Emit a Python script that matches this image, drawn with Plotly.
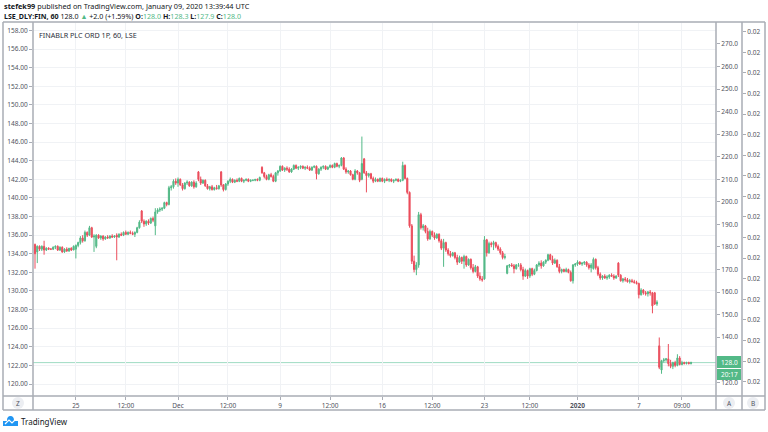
import plotly.graph_objects as go

# ---------------- data (hourly candles, FINABLR PLC, LSE) ----------------
opens = [
    135.0, 134.2, 134.8, 134.5, 134.8, 134.4, 134.6, 134.5, 134.5,  # Nov 21
    134.7, 134.8, 134.4, 134.7, 134.2, 134.5, 134.3, 134.6, 134.4,  # Nov 22
    134.5, 134.9, 135.2, 135.7, 135.4, 136.3, 136.0, 136.8, 135.8,  # Nov 25
    134.8, 136.0, 135.7, 135.9, 135.6, 135.8, 135.7, 135.9, 135.8,  # Nov 26
    136.0, 135.8, 136.1, 136.0, 136.3, 136.1, 136.3, 136.2, 136.1,  # Nov 27
    136.3, 136.8, 138.6, 137.5, 137.2, 137.5, 137.3, 137.8, 137.0,  # Nov 28
    138.5, 138.7, 138.8, 138.9, 139.5, 139.3, 141.1, 141.2, 141.8,  # Nov 29
    141.6, 142.0, 141.4, 141.0, 141.6, 141.7, 141.3, 141.7, 141.2,  # Dec 2
    142.8, 142.0, 141.6, 141.9, 141.3, 141.0, 141.2, 140.9, 141.1,  # Dec 3
    141.0, 142.8, 141.4, 140.9, 141.5, 141.8, 142.0, 141.7, 141.9,  # Dec 4
    141.8, 142.1, 141.8, 141.9, 142.0, 141.8, 141.9, 141.9, 142.0,  # Dec 5
    141.9, 143.3, 142.7, 142.3, 142.0, 142.5, 142.3, 141.8, 142.7,  # Dec 6
    142.9, 143.4, 143.0, 143.2, 143.1, 142.8, 143.1, 143.5, 143.2,  # Dec 9
    143.3, 143.4, 143.2, 143.3, 143.2, 143.0, 143.3, 143.4, 142.6,  # Dec 10
    143.1, 143.3, 143.4, 143.1, 143.3, 143.5, 143.3, 143.7, 143.4,  # Dec 11
    143.5, 144.3, 143.1, 142.8, 142.9, 142.5, 142.0, 142.9, 142.7,  # Dec 12
    142.0, 144.2, 142.7, 142.4, 142.6, 142.1, 141.8, 142.0, 141.8,  # Dec 13
    142.1, 141.8, 142.0, 141.9, 142.0, 141.8, 141.9, 142.0, 141.8,  # Dec 16
    141.9, 143.5, 142.1, 140.6, 137.0, 133.2, 132.3, 132.8, 138.2,  # Dec 17
    136.8, 137.0, 136.4, 135.6, 136.4, 136.0, 135.7, 136.1, 135.4,  # Dec 18
    134.6, 135.2, 134.4, 134.0, 133.8, 134.1, 133.6, 133.1, 133.6,  # Dec 19
    133.2, 133.7, 132.8, 133.4, 132.5, 132.1, 132.6, 131.6, 131.3,  # Dec 20
    131.3, 135.5, 134.1, 135.1, 135.0, 135.2, 134.8, 134.5, 134.1,  # Dec 23
    133.6, 131.9, 132.7, 132.8, 132.7, 132.4, 132.8,                # Dec 24
    132.8, 132.3, 131.6, 132.2, 131.6, 132.4, 131.8, 132.2, 132.8,  # Dec 27
    133.0, 132.7, 133.1, 133.3, 133.9, 133.4, 133.0, 133.3, 132.6,  # Dec 30
    132.1, 132.3, 132.1, 132.3, 132.0, 131.1, 132.8,                # Dec 31
    132.9, 133.1, 132.9, 133.0, 133.1, 132.8, 132.5, 132.4, 133.4,  # Jan 2
    132.5, 131.8, 131.4, 131.6, 131.4, 131.5, 131.7, 131.6, 131.4,  # Jan 3
    133.0, 131.7, 131.1, 131.3, 131.2, 131.0, 131.1, 131.0, 130.9,  # Jan 6
    130.8, 129.6, 130.1, 129.8, 129.7, 129.9, 129.8, 129.8, 128.6,  # Jan 7
    124.1, 121.5, 122.5, 122.6, 122.7, 122.2, 121.9, 122.3, 122.0,  # Jan 8
    122.8, 122.1, 122.3, 122.2, 122.3, 122.2,                       # Jan 9
]
highs = [
    135.1, 134.9, 134.9, 134.9, 135.4, 134.7, 134.7, 134.6, 134.8,
    134.9, 134.9, 134.8, 134.8, 134.6, 134.7, 134.6, 134.7, 134.9,
    135.0, 135.3, 135.9, 136.0, 136.5, 136.4, 137.0, 136.9, 136.1,
    136.1, 136.1, 136.0, 136.0, 135.9, 136.0, 136.0, 136.1, 136.0,
    136.2, 136.2, 136.3, 136.4, 136.5, 136.4, 136.5, 136.4, 136.4,
    136.9, 137.6, 138.7, 137.7, 137.6, 137.7, 137.9, 138.0, 138.9,
    138.9, 139.0, 139.0, 139.6, 139.6, 141.3, 141.4, 142.0, 142.1,
    142.2, 142.1, 141.6, 141.7, 141.9, 141.8, 141.8, 141.9, 141.8,
    142.9, 142.3, 142.0, 142.0, 141.5, 141.3, 141.4, 141.2, 141.4,
    141.4, 142.9, 141.5, 141.6, 141.9, 142.2, 142.1, 142.0, 142.1,
    142.2, 142.2, 142.0, 142.1, 142.1, 142.0, 142.0, 142.0, 142.1,
    142.3, 143.4, 142.8, 142.5, 142.6, 142.7, 142.5, 142.8, 143.0,
    143.5, 143.5, 143.3, 143.4, 143.3, 143.2, 143.6, 143.6, 143.4,
    143.5, 143.5, 143.4, 143.5, 143.4, 143.4, 143.5, 143.5, 143.2,
    143.4, 143.5, 143.5, 143.4, 143.6, 143.6, 143.8, 143.8, 143.6,
    144.4, 144.4, 143.3, 143.0, 143.0, 142.6, 143.1, 143.0, 142.8,
    146.6, 144.3, 142.9, 142.7, 142.7, 142.3, 142.2, 142.1, 142.2,
    142.2, 142.1, 142.2, 142.1, 142.1, 142.0, 142.1, 142.1, 142.0,
    143.9, 143.6, 142.2, 140.7, 137.2, 133.8, 133.1, 138.5, 138.4,
    137.2, 137.1, 136.8, 136.6, 136.5, 136.3, 136.2, 136.2, 135.6,
    135.6, 135.3, 134.6, 134.3, 134.2, 134.2, 133.9, 133.8, 133.7,
    133.9, 133.8, 133.5, 133.5, 132.9, 132.8, 132.7, 132.0, 131.6,
    135.9, 135.6, 135.3, 135.3, 135.4, 135.3, 135.0, 134.7, 134.3,
    134.0, 132.8, 132.9, 133.0, 132.9, 132.9, 133.0,
    133.0, 132.6, 132.4, 132.3, 132.5, 132.5, 132.4, 132.9, 133.2,
    133.3, 133.2, 133.4, 134.0, 134.0, 133.8, 133.5, 133.4, 132.9,
    132.4, 132.4, 132.5, 132.4, 132.2, 132.9, 133.0,
    133.3, 133.2, 133.1, 133.2, 133.2, 133.0, 133.0, 133.6, 133.5,
    132.7, 132.0, 131.7, 131.8, 131.7, 131.8, 131.9, 131.8, 131.7,
    133.1, 131.8, 131.4, 131.5, 131.4, 131.3, 131.3, 131.2, 131.1,
    130.9, 130.3, 130.2, 130.0, 130.0, 130.1, 129.9, 129.9, 129.0,
    125.0, 122.6, 122.8, 122.8, 124.3, 122.6, 122.4, 122.5, 123.2,
    123.0, 122.5, 122.4, 122.4, 122.4, 122.4,
]
lows = [
    132.4, 133.0, 134.3, 134.3, 133.9, 134.3, 134.4, 134.4, 134.4,
    134.5, 134.3, 134.3, 134.1, 134.1, 134.2, 134.2, 134.3, 134.4,
    133.5, 134.7, 135.0, 135.2, 135.3, 135.8, 135.9, 135.7, 134.2,
    134.6, 135.6, 135.5, 135.4, 135.5, 135.6, 135.6, 135.7, 135.7,
    133.3, 135.7, 135.9, 135.9, 136.0, 136.0, 136.1, 136.0, 135.8,
    136.2, 136.7, 137.3, 136.9, 137.0, 137.1, 137.2, 137.4, 136.0,
    138.3, 138.5, 138.6, 138.8, 139.1, 139.2, 140.8, 141.0, 141.4,
    141.2, 141.3, 140.8, 140.9, 141.4, 141.2, 141.2, 141.0, 141.1,
    141.8, 141.4, 141.5, 141.2, 140.9, 140.8, 140.8, 140.8, 140.9,
    140.9, 141.2, 140.7, 140.8, 141.3, 141.6, 141.6, 141.6, 141.7,
    141.7, 141.7, 141.6, 141.8, 141.7, 141.7, 141.8, 141.8, 141.8,
    141.8, 142.6, 142.1, 141.9, 141.9, 142.2, 141.7, 141.7, 142.4,
    142.8, 142.9, 142.8, 142.9, 142.7, 142.7, 143.0, 143.1, 143.0,
    143.1, 143.1, 143.0, 143.1, 142.9, 142.9, 143.2, 142.0, 142.5,
    142.9, 143.1, 143.0, 143.0, 143.2, 143.2, 143.2, 143.3, 143.2,
    143.4, 143.0, 142.6, 142.6, 142.4, 141.9, 141.9, 142.5, 141.7,
    141.9, 142.6, 140.6, 142.2, 142.0, 141.6, 141.7, 141.7, 141.7,
    141.7, 141.6, 141.8, 141.7, 141.7, 141.6, 141.8, 141.7, 141.7,
    141.8, 142.0, 140.4, 136.8, 132.9, 132.0, 131.7, 132.5, 136.6,
    136.5, 136.2, 135.4, 135.5, 135.8, 135.5, 135.6, 135.2, 134.4,
    132.6, 134.2, 133.8, 133.6, 133.7, 133.4, 132.8, 133.0, 132.9,
    132.4, 132.6, 132.7, 132.3, 131.9, 132.0, 131.4, 131.1, 131.0,
    131.2, 133.7, 134.0, 134.7, 134.4, 134.6, 134.3, 133.9, 133.4,
    133.4, 131.8, 132.5, 132.6, 131.9, 132.3, 132.6,
    132.1, 131.2, 131.5, 131.3, 131.4, 131.6, 131.7, 132.1, 132.6,
    132.4, 132.6, 132.9, 133.2, 133.3, 132.8, 132.9, 132.5, 131.9,
    131.9, 132.0, 132.0, 131.9, 131.0, 130.8, 132.6,
    132.7, 132.8, 132.7, 132.8, 132.6, 132.3, 132.0, 132.3, 132.3,
    131.6, 131.2, 131.2, 131.3, 131.2, 131.3, 131.5, 131.2, 131.3,
    131.5, 131.0, 130.9, 131.0, 130.9, 130.8, 130.9, 130.8, 130.7,
    129.2, 129.5, 129.6, 129.5, 129.4, 129.5, 127.6, 128.5, 128.4,
    121.6, 121.1, 122.3, 122.4, 121.9, 121.7, 121.6, 121.8, 121.9,
    122.0, 122.0, 122.1, 122.1, 122.1, 122.1,
]
closes = [
    134.0, 134.8, 134.5, 134.8, 134.4, 134.6, 134.5, 134.5, 134.7,
    134.8, 134.4, 134.7, 134.2, 134.5, 134.3, 134.6, 134.4, 134.8,
    134.9, 135.2, 135.7, 135.4, 136.3, 136.0, 136.8, 135.8, 135.9,
    136.0, 135.7, 135.9, 135.6, 135.8, 135.7, 135.9, 135.8, 135.9,
    135.8, 136.1, 136.0, 136.3, 136.1, 136.3, 136.2, 136.1, 136.3,
    136.8, 137.4, 137.5, 137.2, 137.5, 137.3, 137.8, 137.6, 138.5,
    138.7, 138.8, 138.9, 139.5, 139.3, 141.1, 141.2, 141.8, 141.6,
    142.0, 141.4, 141.0, 141.6, 141.7, 141.3, 141.7, 141.2, 141.6,
    142.0, 141.6, 141.9, 141.3, 141.0, 141.2, 140.9, 141.1, 141.0,
    141.3, 141.4, 140.9, 141.5, 141.8, 142.0, 141.7, 141.9, 141.8,
    142.1, 141.8, 141.9, 142.0, 141.8, 141.9, 141.9, 142.0, 141.9,
    142.2, 142.7, 142.3, 142.0, 142.5, 142.3, 141.8, 142.7, 142.9,
    143.4, 143.0, 143.2, 143.1, 142.8, 143.1, 143.5, 143.2, 143.3,
    143.4, 143.2, 143.3, 143.2, 143.0, 143.3, 143.4, 142.6, 143.1,
    143.3, 143.4, 143.1, 143.3, 143.5, 143.3, 143.7, 143.4, 143.5,
    144.3, 143.1, 142.8, 142.9, 142.5, 142.0, 142.9, 142.7, 141.9,
    143.7, 142.7, 142.4, 142.6, 142.1, 141.8, 142.0, 141.8, 142.1,
    141.8, 142.0, 141.9, 142.0, 141.8, 141.9, 142.0, 141.8, 141.9,
    143.5, 142.1, 140.6, 137.0, 133.2, 132.3, 132.8, 138.2, 136.8,
    137.0, 136.4, 135.6, 136.4, 136.0, 135.7, 136.1, 135.4, 134.6,
    135.2, 134.4, 134.0, 133.8, 134.1, 133.6, 133.1, 133.6, 133.2,
    133.7, 132.8, 133.4, 132.5, 132.1, 132.6, 131.6, 131.3, 131.2,
    135.5, 134.1, 135.1, 135.0, 135.2, 134.8, 134.5, 134.1, 133.6,
    133.7, 132.7, 132.8, 132.7, 132.4, 132.8, 132.8,
    132.3, 131.6, 132.2, 131.6, 132.4, 131.8, 132.2, 132.8, 133.0,
    132.7, 133.1, 133.3, 133.9, 133.4, 133.0, 133.3, 132.6, 132.1,
    132.3, 132.1, 132.3, 132.0, 131.1, 132.8, 132.9,
    133.1, 132.9, 133.0, 133.1, 132.8, 132.5, 132.8, 133.4, 132.5,
    131.8, 131.4, 131.6, 131.4, 131.5, 131.7, 131.6, 131.4, 131.6,
    131.7, 131.1, 131.3, 131.2, 131.0, 131.1, 131.0, 130.9, 130.8,
    129.6, 130.1, 129.8, 129.7, 129.9, 129.8, 128.4, 128.6, 128.8,
    121.8, 122.5, 122.6, 122.7, 122.2, 121.9, 122.3, 122.0, 122.8,
    122.1, 122.3, 122.2, 122.3, 122.2, 122.3,
]

# time-axis labels and the candle (bar index) they sit on
time_tick_bars = [18, 40, 63, 85, 108, 130, 153, 175, 198, 218, 239, 266, 285]
time_tick_labels = ["25", "12:00", "Dec", "12:00", "9", "12:00", "16", "12:00",
                    "23", "12:00", "<b>2020</b>", "7", "09:00"]

# right price scale "A" (the 130.0 label sits under the last-price box)
a_axis_values = [120, 140, 150, 160, 170, 180, 190, 200, 210, 220, 230, 240, 250, 260, 270]
b_axis_labels = ["0.02"] * 18

header_user = "stefek99"
header_rest = " published on TradingView.com, January 09, 2020 13:39:44 UTC"
symbol = "LSE_DLY:FIN, 60"
chart_title = "FINABLR PLC ORD 1P, 60, LSE"
last_label = "128.0"
countdown_label = "20:17"

assert len(opens) == len(highs) == len(lows) == len(closes)
bars = list(range(len(closes)))

# ---------------- geometry helpers (pixels -> paper) ----------------
W, H = 768, 432
PL, PR, PT, PB = 33, 742, 23, 396   # paper area in pixels
XEND = 716                           # end of price pane (axis A line)


def fx(px):
    return (px - PL) / (PR - PL)


def fy(py):
    return (PB - py) / (PB - PT)


UP = "#53b987"
DOWN = "#eb4d5c"
FRAME = "#a9acb5"
TXT = "#50535e"
FONT = "Noto Sans"
TICKSIZE = 6.5

fig = go.Figure()
fig.add_trace(go.Candlestick(
    x=bars, open=opens, high=highs, low=lows, close=closes,
    increasing=dict(line=dict(color=UP, width=1), fillcolor=UP),
    decreasing=dict(line=dict(color=DOWN, width=1), fillcolor=DOWN),
    whiskerwidth=0, showlegend=False, hoverinfo="skip",
))
# empty traces so the extra price scales are drawn
fig.add_trace(go.Scatter(x=[None], y=[None], yaxis="y2", showlegend=False))
fig.add_trace(go.Scatter(x=[None], y=[None], yaxis="y3", showlegend=False))

n_b = len(b_axis_labels)
fig.update_layout(
    width=W, height=H,
    margin=dict(l=PL, r=W - PR, t=PT, b=H - PB, pad=0),
    paper_bgcolor="white", plot_bgcolor="white",
    font=dict(family=FONT, size=7, color=TXT),
    showlegend=False,
    xaxis=dict(
        domain=[0, fx(XEND)], range=[-0.88, 300.0], automargin=False,
        rangeslider=dict(visible=False),
        tickvals=time_tick_bars, ticktext=time_tick_labels,
        ticks="outside", ticklen=3, tickcolor=FRAME,
        showgrid=True, gridcolor="#f0f2f5", gridwidth=1,
        zeroline=False, showline=False, fixedrange=True,
        tickfont=dict(size=TICKSIZE, color=TXT),
    ),
    yaxis=dict(
        side="left", range=[118.71, 158.81], dtick=2, tick0=120, automargin=False,
        tickformat=".2f", ticks="outside", ticklen=3, tickcolor=FRAME,
        showgrid=True, gridcolor="#f0f2f5", gridwidth=1,
        zeroline=False, showline=False, fixedrange=True,
        tickfont=dict(size=TICKSIZE, color=TXT),
    ),
    yaxis2=dict(
        overlaying="y", side="right", anchor="x", automargin=False,
        range=[113.9, 279.3], tickvals=a_axis_values, tickformat=".1f",
        ticks="outside", ticklen=3, tickcolor=FRAME,
        showgrid=False, zeroline=False, showline=False, fixedrange=True,
        tickfont=dict(size=TICKSIZE, color=TXT),
    ),
    yaxis3=dict(
        overlaying="y", side="right", anchor="free", position=1.0, automargin=False,
        range=[-0.695, n_b - 1 + 0.42],
        tickvals=list(range(n_b)), ticktext=b_axis_labels,
        ticks="outside", ticklen=3, tickcolor=FRAME,
        showgrid=False, zeroline=False, showline=False, fixedrange=True,
        tickfont=dict(size=TICKSIZE, color=TXT),
    ),
)

shapes = []


def pline(x0, y0, x1, y1, color=FRAME, width=1.5):
    shapes.append(dict(type="line", xref="paper", yref="paper",
                       x0=fx(x0), y0=fy(y0), x1=fx(x1), y1=fy(y1),
                       line=dict(color=color, width=width), layer="above"))


# frame
pline(3, 22, 765, 22)
pline(3, 410, 765, 410)
pline(3, 22, 3, 410)
pline(765, 22, 765, 410)
pline(PL, 22, PL, 410)
pline(3, PB, 765, PB)
pline(XEND, 22, XEND, 410)
pline(PR, 22, PR, 410)

# last price line
shapes.append(dict(type="line", xref="paper", yref="y",
                   x0=0, x1=fx(XEND), y0=closes[-1], y1=closes[-1],
                   line=dict(color="#9fdcc3", width=1), layer="below"))

# price / countdown boxes
for (y0, y1) in [(356, 368), (369, 380)]:
    shapes.append(dict(type="rect", xref="paper", yref="paper",
                       x0=fx(717), x1=fx(741), y0=fy(y1), y1=fy(y0),
                       fillcolor=UP, line=dict(width=0), layer="above"))

# round buttons Z / A / B
for cx in (18, 729, 753):
    shapes.append(dict(type="circle", xref="paper", yref="paper",
                       x0=fx(cx - 6), x1=fx(cx + 6), y0=fy(409), y1=fy(397),
                       fillcolor="#eceef2", line=dict(width=0), layer="above"))

# TradingView logo (cloud)
shapes.append(dict(type="circle", xref="paper", yref="paper",
                   x0=fx(7), x1=fx(14), y0=fy(425), y1=fy(416),
                   fillcolor="#2196f3", line=dict(width=0), layer="above"))
shapes.append(dict(type="rect", xref="paper", yref="paper",
                   x0=fx(3), x1=fx(18), y0=fy(426), y1=fy(421),
                   fillcolor="#2196f3", line=dict(width=0), layer="above"))
shapes.append(dict(type="path", xref="paper", yref="paper",
                   path="M {} {} L {} {} L {} {} L {} {}".format(
                       fx(5), fy(424), fx(9), fy(420), fx(12), fy(423), fx(16), fy(419)),
                   line=dict(color="white", width=1.2), layer="above"))

fig.update_layout(shapes=shapes)

ann = []


def text(px, py, s, size=7, color=TXT, anchor="left", bold=False):
    ann.append(dict(xref="paper", yref="paper", x=fx(px), y=fy(py),
                    text=("<b>%s</b>" % s) if bold else s, showarrow=False,
                    xanchor=anchor, yanchor="middle",
                    font=dict(family=FONT, size=size, color=color)))


text(2, 6, "<b>%s</b>%s" % (header_user, header_rest), size=7.3, color="#131722")
text(2, 16,
     "<b>%s</b> 128.0 <span style='color:%s'>▲</span> +2.0 (+1.59%%) "
     "<b>O:</b><span style='color:%s'>128.0</span> "
     "<b>H:</b><span style='color:%s'>128.3</span> "
     "<b>L:</b><span style='color:%s'>127.9</span> "
     "<b>C:</b><span style='color:%s'>128.0</span>"
     % (symbol, UP, UP, UP, UP, UP), size=7.1, color="#131722")
text(37, 35, chart_title, size=7.2, color="#2a2e39")
text(729, 362, last_label, size=TICKSIZE, color="white", anchor="center")
text(729, 374.5, countdown_label, size=TICKSIZE, color="white", anchor="center")
text(18, 403, "Z", size=6.5, color=TXT, anchor="center")
text(729, 403, "A", size=6.5, color=TXT, anchor="center")
text(753, 403, "B", size=6.5, color=TXT, anchor="center")
text(19, 421, "TradingView", size=8, color="#131722")

fig.update_layout(annotations=ann)

fig.write_html("out.html",
               config={"displayModeBar": False},
               post_script="document.body.style.margin='0';document.body.style.padding='0';")
